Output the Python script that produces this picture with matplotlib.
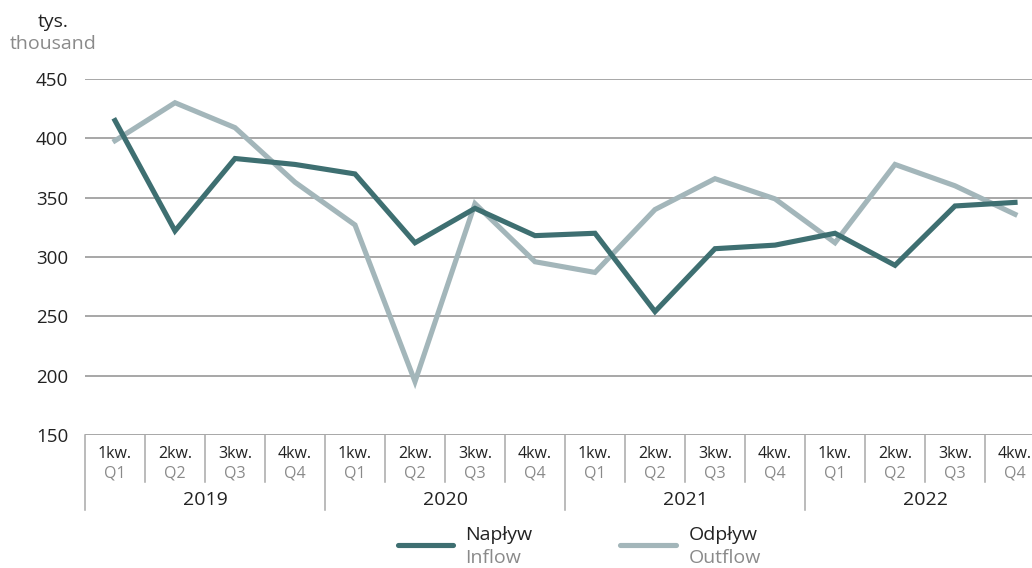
import matplotlib
matplotlib.use("Agg")
import matplotlib.pyplot as plt
from matplotlib.lines import Line2D
import matplotlib.transforms as mtransforms

plt.rcParams['font.family'] = ['Open Sans', 'DejaVu Sans']

years = ["2019", "2020", "2021", "2022"]
quarters_pl = ["1kw.", "2kw.", "3kw.", "4kw."]
quarters_en = ["Q1", "Q2", "Q3", "Q4"]

inflow = [415, 322, 383, 378, 370, 312, 341, 318,
          320, 254, 307, 310, 320, 293, 343, 346]
outflow = [398, 430, 409, 363, 327, 195, 345, 296,
           287, 340, 366, 349, 312, 378, 360, 336]

y_ticks = [150, 200, 250, 300, 350, 400, 450]

DARK = "#3e6f71"
LIGHT = "#a3b6ba"
GRID = "#8f8f8f"
SEP = "#a8a8a8"
TXT = "#222222"
SUB = "#8a8a8a"

W, H = 1032, 568
fig = plt.figure(figsize=(W / 100, H / 100), dpi=100)

# plot area in pixels: x 85..1045 (runs past the right edge), y 79..435
x0, x1 = 85, 1045
ytop, ybot = 79, 435
ax = fig.add_axes([x0 / W, (H - ybot) / H, (x1 - x0) / W, (ybot - ytop) / H])

n = len(inflow)
xs = list(range(n))
ax.set_xlim(-0.5, n - 0.5)
ax.set_ylim(150, 450)

for v in y_ticks:
    ax.axhline(v, color=GRID, lw=1.1, zorder=1)

ax.plot(xs, outflow, color=LIGHT, lw=3.7, solid_joinstyle="miter", zorder=3)
ax.plot(xs, inflow, color=DARK, lw=3.7, solid_joinstyle="miter", zorder=4)

for s in ax.spines.values():
    s.set_visible(False)
ax.set_xticks([])
ax.set_yticks(y_ticks)
ax.set_yticklabels([str(v) for v in y_ticks])
ax.tick_params(axis="y", length=0, pad=12, labelsize=13.5, labelcolor=TXT)

# category axis below the plot
ph = ybot - ytop
def ay(py):
    return (ybot - py) / ph

trans = mtransforms.blended_transform_factory(ax.transData, ax.transAxes)
for i in range(n + 1):
    xb = i - 0.5
    is_year = (i % 4 == 0)
    ax.plot([xb, xb], [0, ay(510 if is_year else 482)], color=SEP, lw=1.1,
            transform=trans, clip_on=False, zorder=2)

for i in range(n):
    q = i % 4
    ax.text(i, ay(454), quarters_pl[q], transform=trans, ha="center", va="center",
            fontsize=11.5, color=TXT, clip_on=False)
    ax.text(i, ay(473), quarters_en[q], transform=trans, ha="center", va="center",
            fontsize=11.5, color=SUB, clip_on=False)

for k, yr in enumerate(years):
    ax.text(4 * k + 1.5, ay(500), yr, transform=trans, ha="center", va="center",
            fontsize=14, color=TXT, clip_on=False)

# unit label
fig.text(53 / W, 1 - 22 / H, "tys.", ha="center", va="center", fontsize=14, color=TXT)
fig.text(53 / W, 1 - 44 / H, "thousand", ha="center", va="center", fontsize=14, color=SUB)

# legend
def legend_item(lx0, lx1, tx, color, top, bottom):
    fig.add_artist(Line2D([lx0 / W, lx1 / W], [1 - 545 / H, 1 - 545 / H],
                          color=color, lw=3.7, solid_capstyle="round"))
    fig.text(tx / W, 1 - 535 / H, top, ha="left", va="center", fontsize=14, color=TXT)
    fig.text(tx / W, 1 - 558 / H, bottom, ha="left", va="center", fontsize=14, color=SUB)

legend_item(398, 453, 465, DARK, "Napływ", "Inflow")
legend_item(620, 676, 689, LIGHT, "Odpływ", "Outflow")

fig.savefig("out.png", dpi=100)
